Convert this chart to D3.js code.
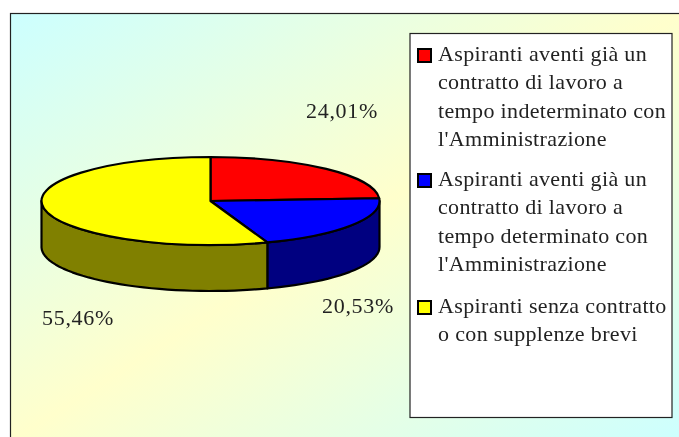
<!DOCTYPE html>
<html>
<head>
<meta charset="utf-8">
<script src="https://cdn.jsdelivr.net/npm/d3@7"></script>
<style>
  html, body { margin: 0; padding: 0; background: #fff; }
  svg { display: block; filter: blur(0.35px); }
  text { font-family: "Liberation Serif", serif; fill: #222; }
</style>
</head>
<body>
<div id="chart"></div>
<script>
// chart data
const categories = ["Con contratto indeterminato", "Con contratto determinato", "Senza contratto"];
const values = [24.01, 20.53, 55.46];
const topColors = ["#ff0000", "#0000ff", "#ffff00"];
const sideColors = ["#800000", "#000080", "#808000"];
const legendLines = [
    ["Aspiranti aventi già un", "contratto di lavoro a", "tempo indeterminato con", "l'Amministrazione"],
    ["Aspiranti aventi già un", "contratto di lavoro a", "tempo determinato con", "l'Amministrazione"],
    ["Aspiranti senza contratto", "o con supplenze brevi"]
];

const width = 679,
    height = 437;

const pie = { cx: 210.5, cy: 201, rx: 169, ry: 44, depth: 46 };

const svg = d3.select("#chart").append("svg")
    .attr("width", width)
    .attr("height", height);

// background, corner to corner on the frame
const defs = svg.append("defs");
const grad = defs.append("linearGradient")
    .attr("id", "bg")
    .attr("x1", 0).attr("y1", 0)
    .attr("x2", 1).attr("y2", 1);
grad.append("stop").attr("offset", "0%").attr("stop-color", "#ccffff");
grad.append("stop").attr("offset", "50%").attr("stop-color", "#ffffcc");
grad.append("stop").attr("offset", "100%").attr("stop-color", "#ccffff");

// the frame runs off the right and bottom of the page
svg.append("rect")
    .attr("x", 10.5).attr("y", 13.5)
    .attr("width", 672).attr("height", 428)
    .attr("fill", "url(#bg)")
    .attr("stroke", "#222")
    .attr("stroke-width", 1.2);

// pie, slices start at 12 o'clock and go clockwise
const slices = d3.pie().sort(null)(values);

const px = a => pie.cx + pie.rx * Math.sin(a);
const py = a => pie.cy - pie.ry * Math.cos(a);

const side = d3.line();

const g = svg.append("g")
    .attr("stroke", "#000")
    .attr("stroke-width", 2.2)
    .attr("stroke-linejoin", "round");

// side wall, only the part facing the viewer
slices.forEach((d, i) => {
    const a0 = Math.max(d.startAngle, Math.PI / 2);
    const a1 = Math.min(d.endAngle, 3 * Math.PI / 2);
    if (a0 >= a1) return;
    const angles = d3.range(a0, a1, 0.05).concat([a1]);
    const pts = angles.map(a => [px(a), py(a)])
        .concat(angles.slice().reverse().map(a => [px(a), py(a) + pie.depth]));
    g.append("path")
        .attr("d", side(pts) + "Z")
        .attr("fill", sideColors[i]);
});

// top face
const arc = d3.arc().innerRadius(0).outerRadius(pie.rx);
g.append("g")
    .attr("transform", `translate(${pie.cx},${pie.cy}) scale(1,${pie.ry / pie.rx})`)
    .selectAll("path")
    .data(slices)
    .enter()
    .append("path")
    .attr("d", arc)
    .attr("vector-effect", "non-scaling-stroke")
    .attr("fill", (d, i) => topColors[i]);

// data labels
const labelPos = [[306, 118], [322, 313], [42, 325]];
svg.append("g")
    .selectAll("text")
    .data(values)
    .enter()
    .append("text")
    .attr("x", (d, i) => labelPos[i][0])
    .attr("y", (d, i) => labelPos[i][1])
    .attr("font-size", 22)
    .attr("letter-spacing", 0.7)
    .text(d => d.toFixed(2).replace(".", ",") + "%");

// legend
svg.append("rect")
    .attr("x", 410).attr("y", 33.5)
    .attr("width", 262).attr("height", 384)
    .attr("fill", "#fff")
    .attr("stroke", "#222")
    .attr("stroke-width", 1.2);

const legendTop = [61, 186, 313];
const lineStep = 28.3;

const legend = svg.append("g")
    .selectAll("g")
    .data(categories)
    .enter()
    .append("g")
    .attr("transform", (d, i) => `translate(0,${legendTop[i]})`);

legend.append("rect")
    .attr("x", 418).attr("y", -12)
    .attr("width", 13).attr("height", 13)
    .attr("fill", (d, i) => topColors[i])
    .attr("stroke", "#000")
    .attr("stroke-width", 2);

legend.each(function(d, i) {
    d3.select(this).selectAll("text")
        .data(legendLines[i])
        .enter()
        .append("text")
        .attr("x", 438)
        .attr("y", (t, j) => j * lineStep)
        .attr("font-size", 22)
        .attr("letter-spacing", 0.35)
        .text(t => t);
});
</script>
</body>
</html>
